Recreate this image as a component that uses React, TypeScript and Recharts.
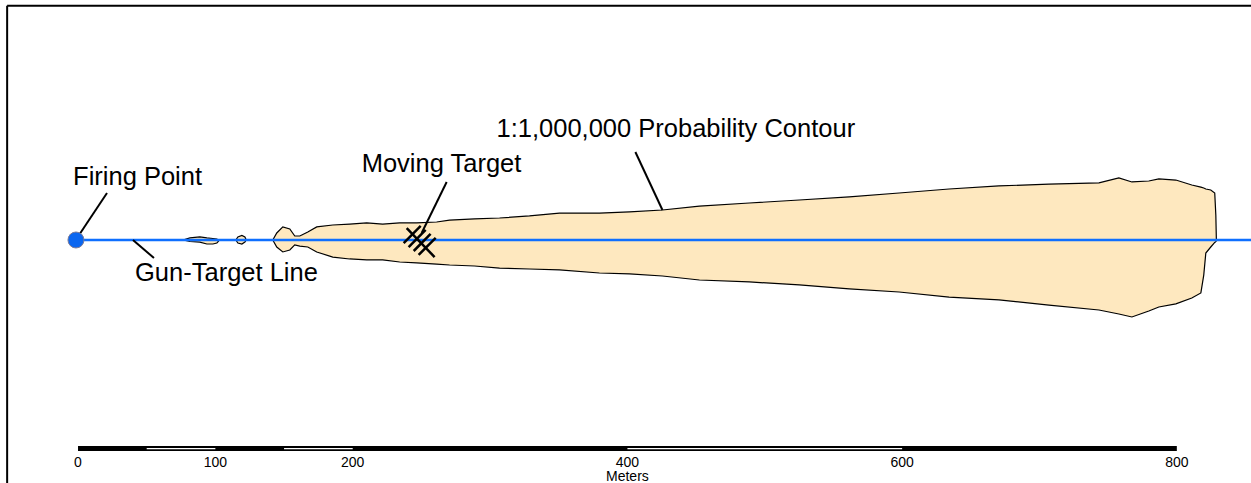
import React from 'react';
import {
  ComposedChart,
  Area,
  Scatter,
  XAxis,
  YAxis,
  ReferenceLine,
  ReferenceArea,
  ReferenceDot,
} from 'recharts';

// all distances in meters, x = downrange, y = offset from gun-target line
const contourX = [
  141.8, 144.7, 149.1, 154.2, 157.8, 161.5, 167.3, 173.8, 185.5, 197.8, 210.2, 221.8, 234.2, 246.5,
  261.1, 270.5, 288.7, 306.9, 328.7, 350.5, 379.6, 401.5, 425.5, 452.4, 488.7, 525.1, 561.5, 597.8,
  634.2, 670.5, 706.9, 743.3, 757.8, 767.3, 779.6, 786.9, 799.3, 810.9, 817.5, 819.6, 821.1, 824.7,
  827.6, 828.4, 828.8,
];
const contourTop = [
  0, 5.1, 9.5, 8.0, 2.9, 2.9, 5.8, 9.5, 10.9, 11.6, 12.4, 11.6, 12.4, 12.4,
  13.1, 14.5, 15.3, 16.0, 17.5, 19.6, 19.6, 20.4, 21.8, 24.7, 26.9, 29.1, 31.3, 34.2,
  37.1, 39.3, 40.7, 41.5, 45.1, 42.2, 42.9, 44.4, 43.6, 40.0, 38.5, 37.8, 37.1, 36.4,
  34.2, 18.0, -0.7,
];
const contourBottom = [
  0, -5.1, -8.7, -7.3, -3.6, -4.4, -5.1, -8.7, -12.4, -13.8, -14.5, -14.5, -16.0, -16.7,
  -17.5, -18.2, -18.9, -20.4, -21.1, -21.8, -24.0, -24.7, -26.2, -29.1, -30.5, -32.7, -35.6, -37.8,
  -41.5, -43.6, -47.3, -50.9, -53.8, -56.0, -51.6, -48.7, -46.5, -42.2, -38.5, -25.5, -9.5, -5.1,
  -1.8, -1.2, -0.7,
];

const sliverX = [76.4, 81.5, 88.7, 93.8, 98.2, 101.1, 102.5];
const sliverTop = [0, 1.5, 2.2, 1.5, 1.1, 0.7, -0.4];
const sliverBottom = [0, -1.1, -1.5, -2.9, -2.9, -2.2, -0.7];

const blobX = [114.9, 116.4, 119.3, 121.5, 122.5];
const blobTop = [0, 2.2, 3.3, 2.2, 0];
const blobBottom = [0, -2.2, -2.9, -1.5, 0];

const firingPoint = [{ x: -1.5, y: 0 }];
const rangeEnd = 862;

const scaleTicks = [0, 100, 200, 400, 600, 800];
const scaleBar: [number, number] = [0, 800];
const scaleWhiteSegments: [number, number][] = [[50, 100], [150, 200], [400, 600]];

// map frame: top edge and left edge
const frameTop = 170.3;
const frameLeft = -51.6;
const frameBottom = -200;

// moving target marker strokes [x1, y1, x2, y2]
const targetStrokes = [
  [239.3, 8.7, 259.6, -12.4],
  [237.1, -2.2, 249.5, 10.2],
  [240.7, -5.1, 253.1, 7.3],
  [244.4, -8.0, 256.7, 4.4],
  [248.0, -10.9, 260.4, 1.5],
];

const labels = [
  { text: 'Firing Point', x: -3.6, y: 46.5 },
  { text: 'Moving Target', x: 206.5, y: 56.0 },
  { text: '1:1,000,000 Probability Contour', x: 304.7, y: 81.5 },
  { text: 'Gun-Target Line', x: 41.5, y: -23.3 },
];

const leaders = [
  [-0.7, 1.5, 21.1, 34.2],
  [40.0, 0, 55.3, -13.1],
  [250.2, 5.1, 268.4, 42.2],
  [425.5, 21.8, 405.8, 64.0],
];

type Row = { x: number; contour?: number[]; sliver?: number[]; blob?: number[] };

const rows: Row[] = [
  ...sliverX.map((x, i) => ({ x, sliver: [sliverBottom[i], sliverTop[i]] })),
  ...blobX.map((x, i) => ({ x, blob: [blobBottom[i], blobTop[i]] })),
  ...contourX.map((x, i) => ({ x, contour: [contourBottom[i], contourTop[i]] })),
].sort((a, b) => a.x - b.x);

const FONT = 'Liberation Sans, Arial, sans-serif';
const FILL = '#fee8bf';
const BLUE = '#0f6fff';

const ScaleTick = (props: any) => {
  const { x, y, payload } = props;
  return (
    <g>
      <text x={x} y={y + 12} textAnchor="middle" fill="#000" fontSize={14} fontFamily={FONT}>
        {payload.value}
      </text>
      {payload.value === 400 && (
        <text x={x} y={y + 26} textAnchor="middle" fill="#000" fontSize={14} fontFamily={FONT}>
          Meters
        </text>
      )}
    </g>
  );
};

export default function App() {
  return (
    <div style={{ position: 'fixed', left: 0, top: 0, width: 1251, height: 483, background: '#fff', overflow: 'hidden' }}>
      <ComposedChart width={1251} height={483} data={rows} margin={{ top: 0, right: 0, left: 0, bottom: 0 }}>
        <XAxis
          type="number"
          dataKey="x"
          domain={[-56.8, 854]}
          allowDataOverflow
          ticks={scaleTicks}
          interval={0}
          axisLine={false}
          tickLine={false}
          tickSize={0}
          tickMargin={0}
          height={28}
          tick={<ScaleTick />}
        />
        <YAxis type="number" hide domain={[-156.364, 174.545]} allowDataOverflow />

        <ReferenceLine segment={[{ x: frameLeft, y: frameTop }, { x: rangeEnd, y: frameTop }]} stroke="#000" strokeWidth={2} ifOverflow="visible" />
        <ReferenceLine segment={[{ x: frameLeft, y: frameTop }, { x: frameLeft, y: frameBottom }]} stroke="#000" strokeWidth={2} ifOverflow="visible" />

        <Area type="linear" dataKey="contour" stroke="#000" strokeWidth={1.2} fill={FILL} fillOpacity={1} isAnimationActive={false} dot={false} activeDot={false} />
        <Area type="linear" dataKey="sliver" stroke="#000" strokeWidth={1.2} fill={FILL} fillOpacity={1} isAnimationActive={false} dot={false} activeDot={false} />
        <Area type="linear" dataKey="blob" stroke="#000" strokeWidth={1.2} fill={FILL} fillOpacity={1} isAnimationActive={false} dot={false} activeDot={false} />

        <ReferenceLine segment={[{ x: 0, y: 0 }, { x: rangeEnd, y: 0 }]} stroke={BLUE} strokeWidth={2.5} ifOverflow="visible" />

        {targetStrokes.map((s, i) => (
          <ReferenceLine key={`t${i}`} segment={[{ x: s[0], y: s[1] }, { x: s[2], y: s[3] }]} stroke="#000" strokeWidth={2.5} />
        ))}
        {leaders.map((s, i) => (
          <ReferenceLine key={`l${i}`} segment={[{ x: s[0], y: s[1] }, { x: s[2], y: s[3] }]} stroke="#000" strokeWidth={2} />
        ))}

        <Scatter
          data={firingPoint}
          dataKey="y"
          isAnimationActive={false}
          shape={(p: any) => <circle cx={p.cx} cy={p.cy} r={8} fill="#0a66f0" stroke="#7c7c99" strokeWidth={1} />}
        />

        <ReferenceArea x1={scaleBar[0]} x2={scaleBar[1]} y1={-149.8} y2={-153.5} fill="#000" fillOpacity={1} stroke="none" />
        {scaleWhiteSegments.map((s, i) => (
          <ReferenceArea key={`w${i}`} x1={s[0]} x2={s[1]} y1={-151.2} y2={-152.1} fill="#fff" fillOpacity={1} stroke="none" />
        ))}

        {labels.map((l) => (
          <ReferenceDot
            key={l.text}
            x={l.x}
            y={l.y}
            r={0}
            fill="none"
            stroke="none"
            label={{ value: l.text, position: 'right', offset: 0, fill: '#000', fontSize: 25.5, fontFamily: FONT }}
          />
        ))}
      </ComposedChart>
    </div>
  );
}
